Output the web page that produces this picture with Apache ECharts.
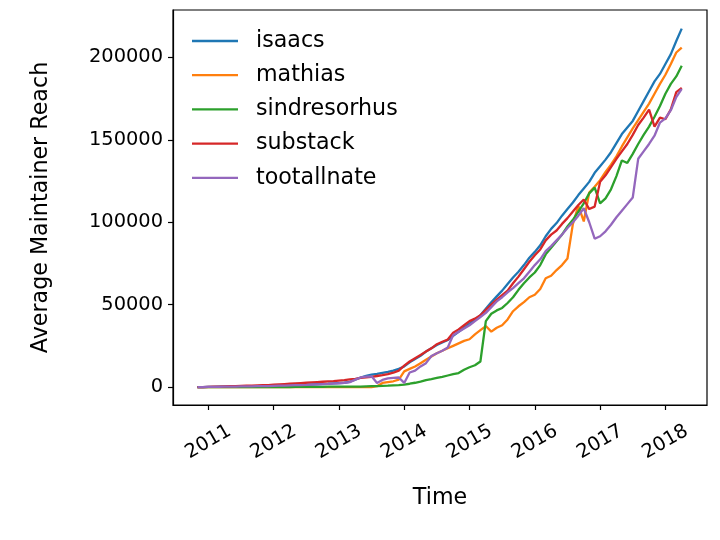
<!DOCTYPE html>
<html>
<head>
<meta charset="utf-8">
<script src="https://cdn.jsdelivr.net/npm/echarts@6/dist/echarts.min.js"></script>
<style>
  html, body { margin: 0; padding: 0; background: #fff; }
  #chart { width: 720px; height: 540px; }
</style>
</head>
<body>
<div id="chart"></div>
<script>
// monthly samples, Nov 2010 .. Apr 2018
var startYear = 2010, startMonth = 11, monthCount = 90;
var months = [];
for (var i = 0; i < monthCount; i++) {
  var mm = startMonth - 1 + i;
  months.push((startYear + Math.floor(mm / 12)) + '-' + ('0' + (mm % 12 + 1)).slice(-2));
}

var names = ['isaacs', 'mathias', 'sindresorhus', 'substack', 'tootallnate'];
var colors = ['#1f77b4', '#ff7f0e', '#2ca02c', '#d62728', '#9467bd'];

var isaacs = [
  0, 0, 100, 150, 200, 250, 300, 350, 400, 450, 500, 550,
  600, 700, 800, 900, 1000, 1100, 1200, 1300, 1400, 1550, 1700, 1850,
  2000, 2200, 2400, 2600, 3200, 4500, 5800, 6800, 7500, 8000, 8600, 9200,
  10000, 11000, 12500, 15000, 17000, 19000, 21500, 23500, 25500, 27000, 28500, 31000,
  33500, 36000, 38500, 41000, 43500, 47500, 51500, 55000, 58500, 62500, 66500, 70000,
  74000, 78500, 82000, 86000, 91500, 96000, 99500, 104000, 108000, 112000, 116500, 120500,
  124500, 130000, 134000, 138000, 142500, 148000, 153500, 157500, 161500, 167500, 173500, 179500,
  185500, 190000, 196000, 202000, 210000, 217500
];
var mathias = [
  0, 0, 0, 0, 0, 0, 0, 0, 0, 0, 0, 0,
  0, 0, 0, 0, 0, 0, 0, 0, 0, 0, 0, 0,
  0, 0, 0, 0, 0, 0, 0, 0, 0, 500, 2500, 3000,
  3500, 4500, 9500, 11000, 12500, 14500, 16500, 18500, 20500, 22000, 23500, 25000,
  26500, 28000, 29000, 32000, 34500, 37000, 33600, 36000, 37500, 41000, 46000, 49000,
  51500, 54500, 56000, 59500, 66000, 67500, 71000, 74000, 78000, 99000, 110000, 100500,
  118000, 121500, 125500, 130500, 135000, 140000, 146000, 151500, 157000, 162000, 167000, 172000,
  178000, 184000, 189500, 196000, 203000, 206000
];
var sindresorhus = [
  0, 0, 0, 0, 0, 0, 0, 0, 0, 0, 0, 0,
  0, 0, 0, 0, 0, 0, 100, 100, 100, 100, 100, 100,
  200, 200, 200, 200, 200, 200, 300, 400, 500, 600, 700, 800,
  1000, 1200, 1500, 2000, 2600, 3300, 4200, 4800, 5500, 6200, 7000, 7800,
  8500, 10500, 12000, 13200, 15500, 40000, 44500, 46500, 48000, 51000, 54500, 59000,
  63000, 66500, 69500, 74000, 80500, 84500, 88500, 92500, 97500, 101500, 106500, 111500,
  117500, 121000, 111500, 114500, 120000, 128000, 137500, 136000, 141500, 147500, 153000, 158000,
  164000, 170500, 178000, 184000, 188500, 195000
];
var substack = [
  0, 0, 100, 200, 300, 400, 500, 600, 700, 800, 900, 1000,
  1100, 1200, 1400, 1600, 1800, 2000, 2200, 2400, 2600, 2800, 3000, 3200,
  3400, 3600, 3900, 4200, 4600, 5000, 5500, 5900, 6200, 6700, 7200, 7800,
  8700, 10000, 13000, 15500, 17500, 19500, 21500, 23500, 26000, 27500, 28800, 33000,
  35000, 37500, 40000, 41500, 43500, 46800, 50000, 53000, 55800, 58500, 63000, 67000,
  71500, 76000, 80000, 83500, 89000, 92500, 95000, 99000, 102500, 106500, 110500, 113800,
  108000, 109500, 124500, 128500, 133500, 138500, 143000, 147500, 153000, 159000, 163500, 168300,
  158000, 163500, 162500, 168500, 179000, 181500
];
var tootallnate = [
  0, 0, 50, 100, 150, 200, 250, 300, 350, 400, 450, 500,
  550, 600, 700, 800, 900, 1000, 1100, 1200, 1300, 1450, 1600, 1750,
  1900, 2100, 2300, 2600, 3000, 4500, 5800, 6300, 6500, 2500, 4300, 5200,
  5500, 5800, 2500, 8800, 10000, 12500, 14500, 18800, 20500, 22000, 24000, 31500,
  33500, 35500, 37500, 40000, 42500, 45000, 48500, 52000, 54500, 57500, 60000, 63000,
  66000, 70000, 74000, 77500, 82500, 85500, 89000, 92500, 96500, 100000, 104000, 108500,
  100000, 90000, 91500, 94500, 98500, 103000, 107000, 111000, 115000, 138500, 143000, 147500,
  152500, 160500, 163000, 168000, 176000, 181000
];

var yearTicks = [2011, 2012, 2013, 2014, 2015, 2016, 2017, 2018];
var reachTicks = [0, 50000, 100000, 150000, 200000];

var seriesValues = [isaacs, mathias, sindresorhus, substack, tootallnate];

function yearOf(m) {
  var p = m.split('-');
  return +p[0] + (+p[1] - 1) / 12;
}

var font = 'DejaVu Sans';
var tickSize = 19.4, labelSize = 22.2;

var series = names.map(function (n, k) {
  return {
    name: n,
    type: 'line',
    showSymbol: false,
    symbol: 'none',
    color: colors[k],
    lineStyle: { width: 2.3, color: colors[k] },
    data: months.map(function (m, i) { return [yearOf(m), seriesValues[k][i]]; })
  };
});

var chart = echarts.init(document.getElementById('chart'));
chart.setOption({
  animation: false,
  backgroundColor: '#fff',
  grid: {
    left: 173, top: 10, right: 13, bottom: 135,
    show: true, borderColor: '#000', borderWidth: 1.2, backgroundColor: 'transparent'
  },
  legend: {
    orient: 'vertical',
    left: 192, top: 30,
    padding: 0,
    icon: 'rect',
    itemWidth: 46, itemHeight: 2.3,
    itemGap: 12.2,
    textStyle: { fontFamily: font, fontSize: labelSize, color: '#000', lineHeight: 22, padding: [0, 0, 0, 13] },
    data: names
  },
  xAxis: {
    type: 'value',
    min: 2010.459, max: 2018.637,
    name: 'Time',
    nameLocation: 'middle',
    nameGap: 82,
    nameTextStyle: { fontFamily: font, fontSize: labelSize, color: '#000' },
    axisLine: { show: true, onZero: false, lineStyle: { color: '#000', width: 1.2 } },
    axisTick: { show: true, length: 5, lineStyle: { color: '#000', width: 1.2 }, customValues: yearTicks },
    axisLabel: {
      fontFamily: font, fontSize: tickSize, color: '#000',
      rotate: 30, align: 'center', verticalAlign: 'middle', margin: 37,
      customValues: yearTicks,
      formatter: function (v) { return String(v); }
    },
    splitLine: { show: false }
  },
  yAxis: {
    type: 'value',
    min: -10900, max: 228800,
    name: 'Average Maintainer Reach',
    nameLocation: 'middle',
    nameGap: 121,
    nameTextStyle: { fontFamily: font, fontSize: labelSize, color: '#000' },
    axisLine: { show: true, onZero: false, lineStyle: { color: '#000', width: 1.2 } },
    axisTick: { show: true, length: 5, lineStyle: { color: '#000', width: 1.2 }, customValues: reachTicks },
    axisLabel: {
      fontFamily: font, fontSize: tickSize, color: '#000', margin: 10,
      customValues: reachTicks,
      formatter: function (v) { return String(v); }
    },
    splitLine: { show: false }
  },
  series: series
});
</script>
</body>
</html>
